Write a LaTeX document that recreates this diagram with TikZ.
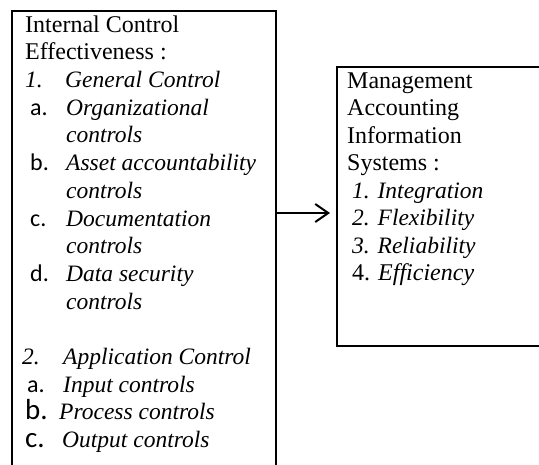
\documentclass[tikz,border=0pt]{standalone}
\usepackage{fontspec}
\setmainfont{Liberation Serif}
\newfontfamily\calibri{Carlito}
\usetikzlibrary{arrows.meta}
\begin{document}
\begin{tikzpicture}[x=1pt,y=-1pt,
  box/.style={draw,line width=2pt,inner sep=0pt,anchor=north west},
  txt/.style={anchor=base west,inner sep=0pt,font=\fontsize{24}{28}\selectfont},
  itx/.style={txt,font=\fontsize{23.5}{28}\selectfont\itshape},
  lab/.style={anchor=base west,inner sep=0pt,font=\calibri\fontsize{24}{28}\selectfont},
  biglab/.style={anchor=base west,inner sep=0pt,font=\calibri\fontsize{29}{30}\selectfont},
  conn/.style={line width=2pt,-{Straight Barb[length=13pt,width=18pt,line width=2pt]}}
]
\useasboundingbox (0,0) rectangle (539,464);
\clip (0,0) rectangle (539,464);
\node[box,minimum width=264pt,minimum height=490pt] (L) at (11,10) {};
\node[box,minimum width=250pt,minimum height=279pt] (R) at (336,65.5) {};
% left box text
\node[txt] (l1) at (25,32) {Internal Control};
\node[txt] (l2) at (25,59.7) {Effectiveness :};
\node[itx] (l3n) at (25,87.4) {1.};
\node[itx] (l3) at (65,87.4) {General Control};
\node[lab] (l4n) at (30,115) {a.};
\node[itx] (l4) at (66,115) {Organizational};
\node[itx] (l5) at (66,142.8) {controls};
\node[lab] (l6n) at (30,170.5) {b.};
\node[itx] (l6) at (66,170.5) {Asset accountability};
\node[itx] (l7) at (66,198) {controls};
\node[lab] (l8n) at (30,226) {c.};
\node[itx] (l8) at (66,226) {Documentation};
\node[itx] (l9) at (66,253.6) {controls};
\node[lab] (l10n) at (30,281) {d.};
\node[itx] (l10) at (66,281) {Data security};
\node[itx] (l11) at (66,309) {controls};
\node[itx] (l12n) at (22,364.5) {2.};
\node[itx] (l12) at (63,364.5) {Application Control};
\node[lab] (l13n) at (27,392) {a.};
\node[itx] (l13) at (63,392) {Input controls};
\node[biglab] (l14n) at (25,419.8) {b.};
\node[itx] (l14) at (59,419.8) {Process controls};
\node[biglab] (l15n) at (25,447.5) {c.};
\node[itx] (l15) at (62,447.5) {Output controls};
% right box text
\node[txt] (r1) at (347,88) {Management};
\node[txt] (r2) at (347,115.5) {Accounting};
\node[txt] (r3) at (347,143) {Information};
\node[txt] (r4) at (347,170.5) {Systems :};
\node[itx] (r5) at (352,198) {1. Integration};
\node[itx] (r6) at (352,225.5) {2. Flexibility};
\node[itx] (r7) at (352,253) {3. Reliability};
\node[txt] (r8) at (352,280.5) {4. \textit{Efficiency}};
% connector
\coordinate (ay) at (0,213);
\draw[conn,shorten >=6pt] (L.east |- ay) -- (R.west |- ay);
\end{tikzpicture}
\end{document}
